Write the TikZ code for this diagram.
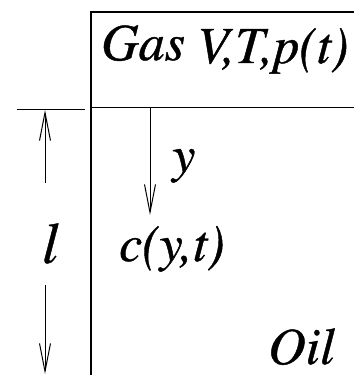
\documentclass[tikz,border=0pt]{standalone}
\usepackage[T1]{fontenc}
\usepackage{mathptmx}
\usetikzlibrary{arrows.meta}
\newcommand\heavytext[1]{\special{pdf:literal direct 0.45 w 2 Tr}#1\special{pdf:literal direct 0 Tr}}
\tikzset{
  lbl/.style={inner sep=0pt, anchor=base west, font=\fontsize{52}{54}\selectfont\itshape},
  thinline/.style={line width=1pt},
  barb/.style={-{Straight Barb[length=28pt,width=11pt,line width=1pt]}, line width=1pt}
}
\begin{document}
\begin{tikzpicture}[x=1pt,y=1pt]
\useasboundingbox (0,0) rectangle (354,375);
% frame
\coordinate (tl) at (91,363);
\coordinate (tr) at (354,363);
\coordinate (bl) at (91,0);
\coordinate (il) at (92,267);
\coordinate (ir) at (354,267);
\coordinate (el) at (17,265);
\coordinate (er) at (85,265);
\coordinate (dtop) at (45,265);
\coordinate (dup) at (45,192);
\coordinate (dlow) at (45,90);
\coordinate (dbot) at (45,1);
\coordinate (ystart) at (150,267);
\coordinate (yend) at (150,160);
\draw[line width=2.5pt] (89.75,363) -- (tr);
\draw[line width=2pt] (tl) -- (bl);
\draw[thinline] (il) -- (ir);
\draw[thinline] (el) -- (er);
\draw[barb] (dup) -- (dtop);
\draw[barb] (dlow) -- (dbot);
\draw[barb] (ystart) -- (yend);
% labels
\node[lbl] (gas) at (101,315) {\heavytext{Gas}};
\node[lbl] (vtp) at (197,312) {\heavytext{V,T,p(t)}};
\node[lbl] (ylab) at (172,203) {\heavytext{y}};
\node[lbl] (conc) at (119,114) {\heavytext{c(y,t)}};
\node[lbl, font=\fontsize{58}{60}\selectfont\itshape] (ell) at (42,112) {\heavytext{l}};
\node[lbl] (oil) at (268,11) {\heavytext{Oil}};
\end{tikzpicture}
\end{document}
